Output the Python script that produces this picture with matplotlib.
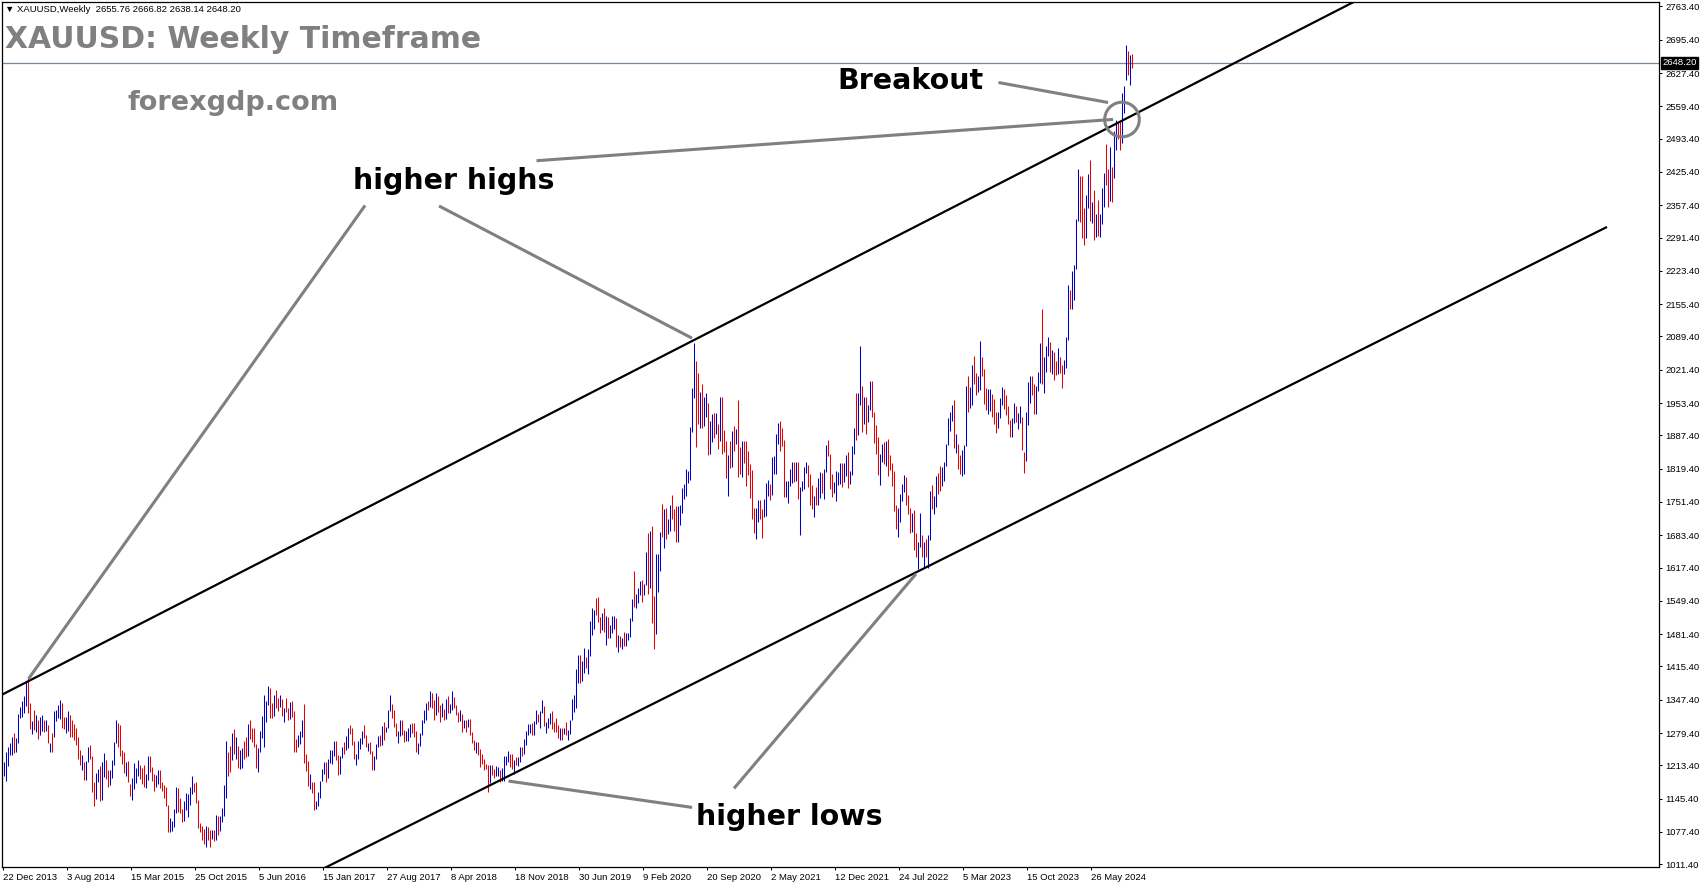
#XAUUSD weekly chart with rising channel, redrawn with matplotlib
import numpy as np
import matplotlib.pyplot as plt
import matplotlib.transforms as mtransforms
from matplotlib.patches import Ellipse

#weekly bars: highs, lows and direction (u = close above open)
hi_2014 = [1220,1241,1251,1259,1271,1280,1270,1318,1332,1345, 1355,1385,1392,1340,1305,1326,1316,1306,1313,1316,
           1307,1306,1296,1259,1280,1325,1327,1336,1346,1341, 1312,1313,1325,1316,1306,1297,1290,1272,1244,1234,
           1220,1223,1250,1255,1233,1180,1197,1206,1212,1221, 1238,1225,1205,1203]
lo_2014 = [1192,1182,1212,1235,1234,1238,1240,1260,1310,1312, 1320,1335,1320,1288,1277,1285,1282,1267,1275,1284,
           1282,1284,1259,1241,1241,1272,1305,1310,1309,1289, 1287,1279,1284,1272,1272,1265,1256,1226,1214,1205,
           1183,1183,1220,1227,1160,1131,1145,1180,1141,1142, 1190,1186,1170,1173]
dir_2014 = "uuuuuduuuu" "uuddududuu" "dududuuuud" "duuddddddu" "duuddduudu" "uddu"

hi_2015 = [1225,1262,1307,1300,1295,1244,1240,1220,1223,1175, 1188,1219,1209,1224,1214,1208,1215,1195,1232,1232,
           1210,1195,1194,1205,1204,1180,1174,1170,1132,1105, 1100,1125,1170,1168,1146,1125,1140,1157,1156,1170,
           1191,1178,1180,1143,1095,1090,1084,1089,1088,1081, 1081,1082]
lo_2015 = [1188,1215,1260,1250,1233,1216,1197,1191,1180,1150, 1142,1165,1178,1192,1185,1176,1170,1168,1183,1200,
           1181,1162,1170,1176,1168,1162,1147,1130,1077,1077, 1080,1088,1116,1118,1116,1097,1099,1122,1107,1132,
           1155,1159,1136,1086,1077,1062,1052,1046,1062,1046, 1064,1058]
dir_2015 = "uuuddddudd" "uuuuddduud" "dduudddddu" "uuuddduuuu" "uddddddudd" "ud"

hi_2016 = [1112,1110,1111,1127,1174,1263,1240,1253,1280,1287, 1272,1254,1244,1248,1263,1271,1297,1306,1290,1289,
           1258,1248,1284,1315,1358,1344,1375,1372,1340,1357, 1367,1352,1358,1348,1331,1352,1330,1343,1345,1324,
           1267,1275,1284,1307,1338,1236,1222,1196,1180,1180, 1141,1160]
lo_2016 = [1062,1071,1080,1097,1111,1146,1191,1199,1225,1237, 1227,1208,1207,1209,1226,1230,1232,1268,1262,1250,
           1208,1199,1240,1270,1251,1303,1337,1310,1310,1314, 1330,1325,1332,1315,1303,1323,1307,1308,1312,1241,
           1241,1250,1258,1272,1219,1201,1171,1165,1157,1122, 1124,1130]
dir_2016 = "uduuuuddud" "uduudduddd" "duuuuuuddu" "ddududdudd" "duuudddudd" "uu"

hi_2017 = [1182,1207,1220,1220,1226,1245,1244,1264,1264,1235, 1233,1250,1261,1273,1289,1295,1289,1264,1236,1264,
           1270,1284,1296,1275,1260,1262,1243,1233,1257,1274, 1275,1293,1301,1292,1326,1358,1338,1326,1300,1283,
           1306,1306,1286,1284,1290,1297,1299,1300,1283,1260, 1280,1306]
lo_2017 = [1146,1181,1195,1180,1188,1219,1216,1232,1225,1194, 1195,1229,1237,1244,1249,1277,1255,1226,1214,1227,
           1247,1258,1270,1250,1242,1236,1205,1204,1227,1250, 1254,1256,1265,1281,1290,1324,1310,1291,1273,1260,
           1273,1276,1262,1264,1264,1271,1279,1271,1241,1236, 1253,1275]
dir_2017 = "uuuduuuudd" "uuduuddduu" "uuddudduuu" "duduuudddu" "udduuudddu" "uu"

hi_2018 = [1326,1341,1345,1366,1361,1346,1362,1356,1337,1340, 1329,1349,1356,1338,1365,1353,1336,1323,1326,1318,
           1307,1307,1308,1309,1281,1266,1262,1262,1246,1236, 1227,1217,1214,1214,1214,1206,1212,1211,1204,1208,
           1233,1233,1243,1237,1237,1225,1230,1230,1250,1251, 1268,1284]
lo_2018 = [1300,1307,1326,1332,1331,1307,1317,1323,1303,1313, 1307,1309,1321,1321,1326,1331,1316,1302,1305,1282,
           1289,1281,1292,1275,1260,1245,1238,1235,1211,1217, 1205,1207,1160,1178,1194,1187,1192,1192,1180,1181,
           1182,1215,1220,1211,1206,1196,1214,1212,1221,1232, 1236,1255]
dir_2018 = "uududduddu" "duduudddud" "ududdduddd" "dddudduudu" "uuudduduud" "uu"

hi_2019 = [1298,1298,1300,1304,1326,1318,1325,1346,1334,1301, 1311,1320,1324,1301,1310,1296,1289,1290,1289,1303,
           1286,1306,1348,1358,1411,1439,1438,1427,1453,1434, 1452,1509,1535,1531,1555,1557,1517,1524,1535,1519,
           1517,1500,1518,1519,1514,1479,1478,1474,1485,1483, 1484,1514]
lo_2019 = [1276,1279,1276,1276,1298,1302,1290,1320,1293,1280, 1289,1297,1287,1281,1281,1270,1266,1266,1277,1275,
           1266,1277,1306,1322,1331,1382,1381,1385,1402,1412, 1400,1437,1480,1492,1520,1506,1484,1490,1485,1459,
           1474,1474,1483,1492,1456,1445,1456,1452,1458,1458, 1470,1475]
dir_2019 = "uuduuduudu" "uuddddudud" "uuuuuuduud" "uuuudddudu" "duuudududu" "uu"

hi_2020 = [1554,1611,1563,1575,1589,1591,1584,1649,1689,1692, 1703,1560,1645,1645,1690,1747,1738,1739,1716,1745,
           1765,1738,1744,1744,1746,1779,1789,1818,1815,1904, 1984,2075,2039,2015,1976,1992,1966,1973,1953,1917,
           1932,1933,1933,1911,1965,1965,1898,1875,1848,1875, 1896,1906,1900]
lo_2020 = [1509,1536,1535,1546,1562,1547,1562,1582,1564,1576, 1505,1451,1482,1567,1610,1680,1658,1675,1685,1692,
           1717,1692,1670,1670,1704,1728,1757,1763,1790,1797, 1895,1964,1863,1911,1902,1902,1906,1925,1848,1850,
           1873,1882,1890,1860,1876,1850,1853,1800,1764,1820, 1823,1855,1870]
dir_2020 = "uduuuduudu" "dduuududuu" "ddduuuuuuu" "uudduduudu" "udududddud" "udu"

hi_2021 = [1959,1864,1875,1875,1875,1855,1828,1816,1739,1740, 1755,1755,1738,1758,1790,1797,1789,1843,1846,1890,
           1912,1916,1903,1878,1795,1794,1818,1834,1833,1832, 1832,1782,1795,1823,1834,1827,1808,1787,1764,1781,
           1800,1813,1810,1818,1868,1877,1849,1808,1793,1814, 1812,1831]
lo_2021 = [1802,1808,1802,1831,1784,1806,1760,1717,1687,1676, 1711,1717,1677,1721,1723,1763,1756,1765,1808,1808,
           1869,1855,1866,1761,1761,1750,1783,1791,1793,1795, 1758,1684,1773,1778,1810,1782,1745,1737,1721,1746,
           1745,1760,1770,1758,1813,1845,1778,1762,1770,1753, 1785,1789]
dir_2021 = "dduddddddu" "udduuuduuu" "uddduuuudu" "duuuudddud" "uuduuddduu" "uu"

hi_2022 = [1831,1830,1848,1853,1814,1865,1902,1974,1974,2070, 1989,1966,1966,1949,1998,1998,1936,1909,1884,1849,
           1869,1874,1875,1879,1847,1830,1814,1746,1739,1767, 1788,1807,1802,1765,1740,1729,1735,1688,1670,1729,
           1683,1669,1675,1684,1773,1786,1763,1804,1810,1824, 1823,1833]
lo_2022 = [1782,1792,1805,1780,1788,1807,1850,1878,1889,1950, 1895,1910,1890,1915,1940,1925,1872,1850,1807,1786,
           1833,1828,1825,1805,1816,1784,1732,1697,1680,1711, 1754,1771,1745,1727,1688,1690,1654,1639,1614,1660,
           1640,1617,1638,1616,1673,1737,1727,1741,1767,1773, 1784,1795]
dir_2022 = "duuduuuduu" "duduuddddu" "ududdddduu" "uudddudduu" "duduuduudd" "uu"

hi_2023 = [1870,1922,1935,1949,1959,1890,1870,1847,1858,1868, 1989,2009,1987,2032,2049,2015,2009,2081,2048,2022,
           1985,1983,1983,1971,1962,1935,1935,1963,1987,1982, 1970,1948,1918,1922,1953,1947,1933,1947,1925,1853,
           1936,1997,2009,2008,1993,1988,2017,2075,2146,2048, 2070,2088]
lo_2023 = [1824,1867,1896,1917,1861,1852,1818,1808,1804,1809, 1866,1935,1944,1950,1992,1969,1975,1981,2009,1952,
           1939,1932,1938,1925,1910,1893,1902,1922,1950,1942, 1929,1911,1885,1884,1912,1915,1901,1913,1857,1810,
           1835,1908,1953,1969,1932,1930,1978,1995,1992,1973, 2016,2049]
dir_2023 = "uuuududduu" "uduudduudd" "duuddduuud" "ddduuduudd" "uuudduuudu" "uu"

hi_2024 = [2078,2062,2057,2040,2065,2048,2032,2041,2088,2195, 2185,2223,2236,2330,2432,2418,2417,2352,2378,2422,
           2450,2364,2388,2339,2368,2340,2392,2424,2483,2432, 2477,2436,2509,2531,2525,2529,2586,2600,2685,2672,
           2664,2667]
lo_2024 = [2016,2013,2001,2010,2013,2014,1984,2012,2024,2083, 2146,2146,2163,2228,2326,2324,2291,2277,2291,2351,
           2325,2322,2286,2293,2295,2293,2319,2353,2398,2353, 2365,2364,2412,2470,2492,2471,2485,2546,2614,2624,
           2603,2638]
dir_2024 = "duddudduuu" "duuuuddduu" "dududuuudd" "uduudduuud" "ud"

last_ohlc = [2655.76, 2666.82, 2638.14, 2648.20]

#axis labels
date_labels = ["22 Dec 2013", "3 Aug 2014", "15 Mar 2015", "25 Oct 2015", "5 Jun 2016", "15 Jan 2017",
               "27 Aug 2017", "8 Apr 2018", "18 Nov 2018", "30 Jun 2019", "9 Feb 2020", "20 Sep 2020",
               "2 May 2021", "12 Dec 2021", "24 Jul 2022", "5 Mar 2023", "15 Oct 2023", "26 May 2024"]
price_ticks = [1011.40, 1077.40, 1145.40, 1213.40, 1279.40, 1347.40, 1415.40, 1481.40, 1549.40,
               1617.40, 1683.40, 1751.40, 1819.40, 1887.40, 1953.40, 2021.40, 2089.40, 2155.40,
               2223.40, 2291.40, 2357.40, 2425.40, 2493.40, 2559.40, 2627.40, 2695.40, 2763.40]

#channel anchors (bar index, price)
upper_a, upper_b = (12, 1384), (345, 2081)
lower_a, lower_b = (208.5, 1101.3), (801.5, 2312.0)

highs = np.array(hi_2014 + hi_2015 + hi_2016 + hi_2017 + hi_2018 + hi_2019 + hi_2020 + hi_2021
                 + hi_2022 + hi_2023 + hi_2024, dtype=float)
lows = np.array(lo_2014 + lo_2015 + lo_2016 + lo_2017 + lo_2018 + lo_2019 + lo_2020 + lo_2021
                + lo_2022 + lo_2023 + lo_2024, dtype=float)
dirs = (dir_2014 + dir_2015 + dir_2016 + dir_2017 + dir_2018 + dir_2019 + dir_2020 + dir_2021
        + dir_2022 + dir_2023 + dir_2024)
n = min(len(highs), len(lows), len(dirs))
bars = np.arange(n)
cols = ['#0000C8' if d == 'u' else '#E80000' for d in dirs[:n]]

axis_font = ['Liberation Sans', 'DejaVu Sans']

fig = plt.figure(figsize=(17.05, 8.88), dpi=100)
ax = fig.add_axes([2/1705, 21/888, 1657/1705, 865/888])

#one bar = 2 px, shift a quarter bar so each 1 px line sits on a pixel column
ax.vlines(bars + 0.25, lows[:n], highs[:n], colors=cols, linewidth=0.75, zorder=3)

#channel
ax.axline(upper_a, upper_b, color='black', linewidth=1.6, zorder=4)
slope = (lower_b[1] - lower_a[1]) / (lower_b[0] - lower_a[0])
lx = np.array([100, lower_b[0]])
ax.plot(lx, lower_a[1] + (lx - lower_a[0]) * slope, color='black', linewidth=1.6, zorder=4)

#current price line
ax.axhline(last_ohlc[3], color='#778899', linewidth=0.9, zorder=2)

#annotations
gray = '#808080'
lw_ann = 2.2
ax.plot([180.6, 13.2], [2354.4, 1392.8], color=gray, linewidth=lw_ann, zorder=5)
ax.plot([218.7, 343.8], [2354.4, 2087.4], color=gray, linewidth=lw_ann, zorder=5)
ax.plot([267.5, 554.3], [2448.5, 2532.4], color=gray, linewidth=lw_ann, zorder=5)
ax.plot([498.5, 551.8], [2607.4, 2567.7], color=gray, linewidth=lw_ann, zorder=5)
ax.plot([343.8, 253.5], [1128.0, 1181.0], color=gray, linewidth=lw_ann, zorder=5)
ax.plot([366.0, 456.0], [1168.8, 1602.0], color=gray, linewidth=lw_ann, zorder=5)
ax.add_patch(Ellipse((559.5, 2532.4), 17.3, 70.7, fill=False, edgecolor=gray, linewidth=lw_ann, zorder=5))

txt = dict(fontsize=20.5, fontweight='bold', color='black', ha='left', va='center', zorder=6)
ax.text(175, 2406.7, "higher highs", **txt)
ax.text(417, 2611.0, "Breakout", **txt)
ax.text(346.5, 1108.5, "higher lows", **txt)

fig.text(5/1705, 1 - 40/888, "XAUUSD: Weekly Timeframe", fontsize=21.5, fontweight='bold',
         color=gray, ha='left', va='center')
fig.text(128/1705, 1 - 103/888, "forexgdp.com", fontsize=19.5, fontweight='bold',
         color=gray, ha='left', va='center')
fig.text(5/1705, 1 - 10/888, "\u25BC XAUUSD,Weekly  " + " ".join("%.2f" % v for v in last_ohlc),
         fontsize=6.8, family=axis_font, color='black', ha='left', va='center')

#axes styling
ax.set_xlim(-0.5, 828)
ax.set_ylim(1005.9, 2772.4)
ax.set_xticks(np.arange(len(date_labels)) * 32)
ax.set_xticklabels(date_labels, ha='left', fontsize=6.8, family=axis_font)
ax.yaxis.tick_right()
ax.set_yticks(price_ticks)
ax.set_yticklabels(["%.2f" % p for p in price_ticks], fontsize=6.8, family=axis_font)
ax.tick_params(axis='both', direction='out', length=2.5, width=0.72, color='black', pad=2)
for s in ax.spines.values():
    s.set_linewidth(0.9)
    s.set_color('black')

trans = mtransforms.blended_transform_factory(ax.transAxes, ax.transData)
ax.text(1.002, last_ohlc[3], "%.2f" % last_ohlc[3], transform=trans, fontsize=6.8, family=axis_font,
        color='white', ha='left', va='center', clip_on=False, zorder=7,
        bbox=dict(boxstyle='square,pad=0.15', facecolor='black', edgecolor='black'))

plt.savefig("out.png", dpi=100)
